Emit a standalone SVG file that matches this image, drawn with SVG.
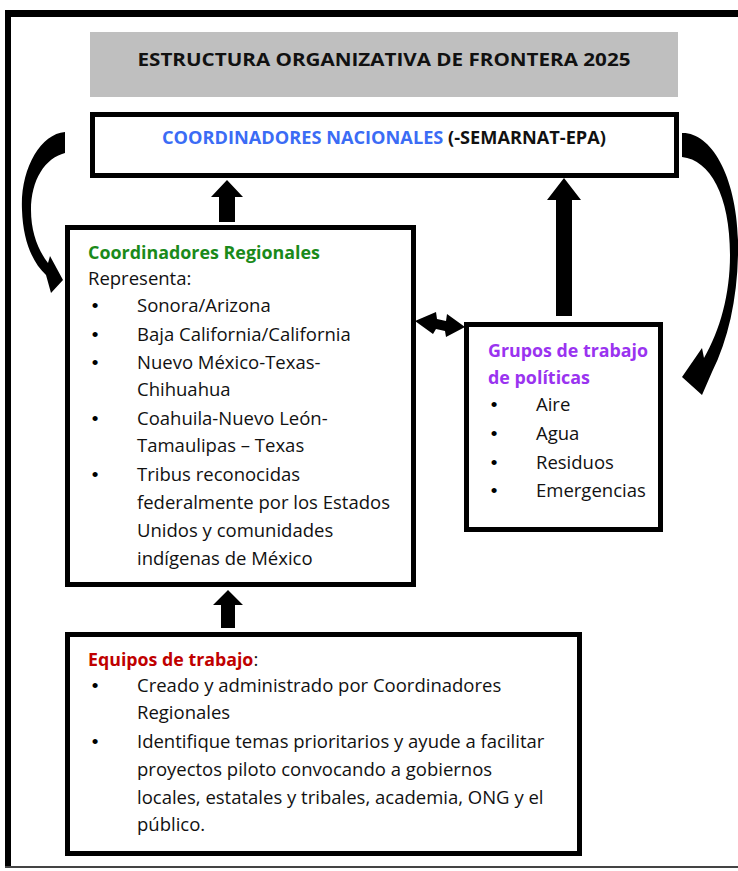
<svg xmlns="http://www.w3.org/2000/svg" width="738" height="871" viewBox="0 0 738 871">
<style>
.box{fill:#fff;stroke:#000;stroke-width:5}
.t{font-family:"Open Sans","Liberation Sans",sans-serif;font-size:18.5px;fill:#111}
.b{font-weight:bold}
.bu{font-family:"Liberation Sans",Arial,sans-serif;font-size:19px;fill:#000;text-anchor:middle}
.arrow{fill:#000}
</style>
<rect width="738" height="871" fill="#fff"/>
<g id="frame">
<rect x="5" y="10" width="740" height="7" fill="#000"/>
<rect x="5" y="10" width="6" height="858" fill="#000"/>
<rect x="5" y="866" width="733" height="2" fill="#444"/>
</g>
<g id="title">
<rect x="90" y="32" width="588" height="65" fill="#bfbfbf"/>
<text class="t b" x="384" y="66" text-anchor="middle" font-size="18.5" textLength="493" lengthAdjust="spacingAndGlyphs">ESTRUCTURA ORGANIZATIVA DE FRONTERA 2025</text>
</g>
<g id="nacionales">
<rect class="box" x="92.5" y="114.5" width="584" height="61"/>
<text class="t b" x="162" y="144" textLength="444" lengthAdjust="spacingAndGlyphs"><tspan fill="#3b6cf5">COORDINADORES NACIONALES</tspan> (-SEMARNAT-EPA)</text>
</g>
<g id="regionales">
<rect class="box" x="67.5" y="227.5" width="346" height="357"/>
<text class="t b" x="88" y="259" style="fill:#1a8a1a" textLength="232" lengthAdjust="spacingAndGlyphs">Coordinadores Regionales</text>
<text class="t" x="88" y="285">Representa:</text>
<text class="bu" x="95" y="312">•</text><text class="t" x="137" y="312">Sonora/Arizona</text>
<text class="bu" x="95" y="341">•</text><text class="t" x="137" y="341">Baja California/California</text>
<text class="bu" x="95" y="369">•</text><text class="t" x="137" y="369">Nuevo México-Texas-</text>
<text class="t" x="137" y="396">Chihuahua</text>
<text class="bu" x="95" y="425">•</text><text class="t" x="137" y="425">Coahuila-Nuevo León-</text>
<text class="t" x="137" y="452">Tamaulipas – Texas</text>
<text class="bu" x="95" y="481">•</text><text class="t" x="137" y="481">Tribus reconocidas</text>
<text class="t" x="137" y="509">federalmente por los Estados</text>
<text class="t" x="137" y="537">Unidos y comunidades</text>
<text class="t" x="137" y="565">indígenas de México</text>
</g>
<g id="grupos">
<rect class="box" x="466.5" y="324.5" width="194" height="205"/>
<text class="t b" x="488" y="357" style="fill:#9a33f0" textLength="160" lengthAdjust="spacingAndGlyphs">Grupos de trabajo</text>
<text class="t b" x="488" y="384" style="fill:#9a33f0" textLength="102" lengthAdjust="spacingAndGlyphs">de políticas</text>
<text class="bu" x="494" y="411">•</text><text class="t" x="536" y="411">Aire</text>
<text class="bu" x="494" y="440">•</text><text class="t" x="536" y="440">Agua</text>
<text class="bu" x="494" y="469">•</text><text class="t" x="536" y="469">Residuos</text>
<text class="bu" x="494" y="497">•</text><text class="t" x="536" y="497">Emergencias</text>
</g>
<g id="equipos">
<rect class="box" x="67.5" y="634.5" width="512" height="219"/>
<text class="t" x="88" y="666"><tspan class="b" style="fill:#c00000;font-size:17.8px">Equipos de trabajo</tspan>:</text>
<text class="bu" x="95" y="692">•</text><text class="t" x="137" y="692">Creado y administrado por Coordinadores</text>
<text class="t" x="137" y="719">Regionales</text>
<text class="bu" x="95" y="748">•</text><text class="t" x="137" y="748">Identifique temas prioritarios y ayude a facilitar</text>
<text class="t" x="137" y="776">proyectos piloto convocando a gobiernos</text>
<text class="t" x="137" y="804">locales, estatales y tribales, academia, ONG y el</text>
<text class="t" x="137" y="831">público.</text>
</g>
<g id="connectors">
<polygon class="arrow" points="227,180 243,197 235,197 235,222 219,222 219,197 211,197"/>
<polygon class="arrow" points="564,178 581,200 572,200 572,316 556,316 556,200 547,200"/>
<polygon class="arrow" points="228,590 243,605 235,605 235,628 221,628 221,605 213,605"/>
<polygon class="arrow" points="415,321 436,312 437,319 446,321 447,314 465,327 446,337 445,331 436,329 433,334"/>
<path class="arrow" d="M65,132 C40,134 20,170 22,210 C23,240 32,262 46,275 L51,293 L63,280 L50,256 L48,263 C38,250 31,232 31,210 C31,180 45,158 65,153 Z"/>
<path class="arrow" d="M682,133 C712,132 740,180 738,255 C737,300 728,340 712,372 L702,395 L682,377 L702,348 L704,358 C720,330 730,295 730,255 C730,195 710,160 682,157 Z"/>
</g>
</svg>
